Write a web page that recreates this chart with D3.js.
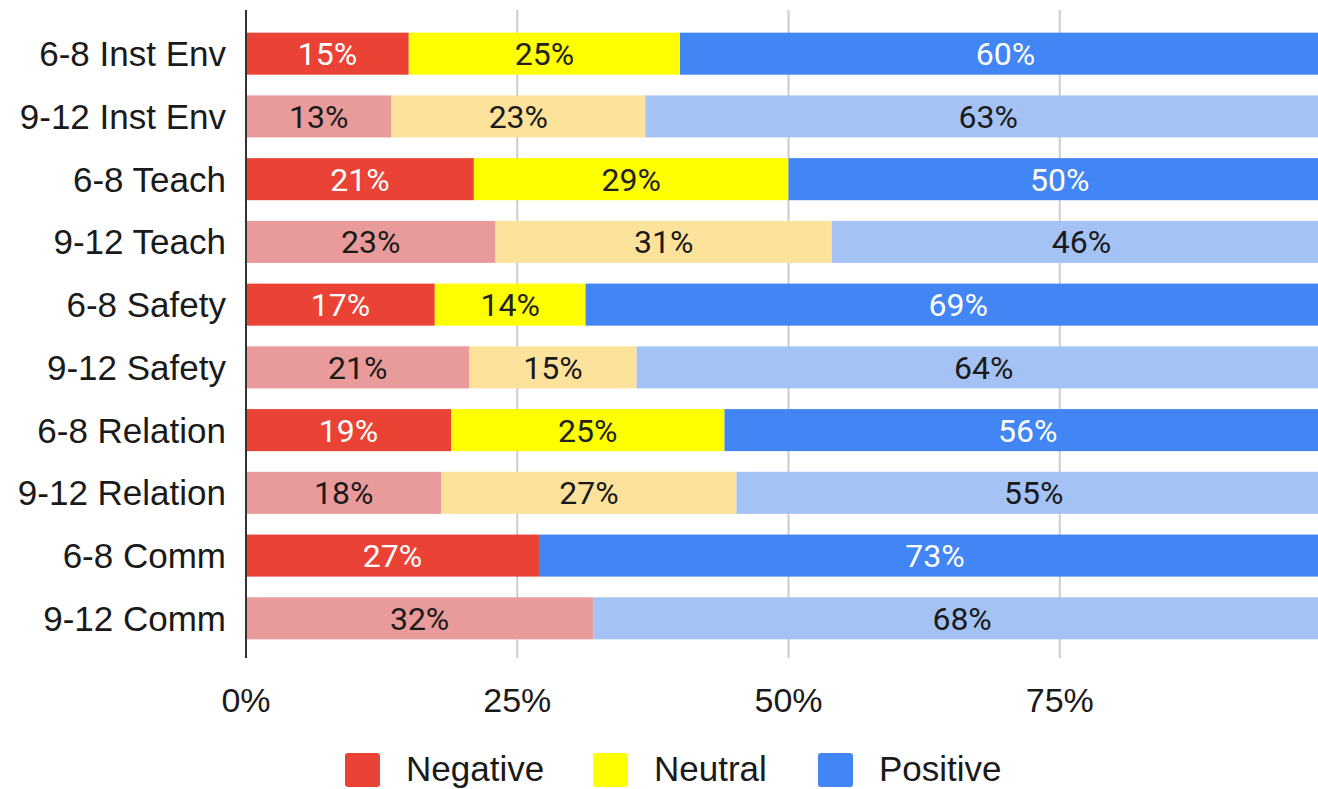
<!DOCTYPE html>
<html>
<head>
<meta charset="utf-8">
<script src="https://cdn.jsdelivr.net/npm/d3@7"></script>
<style>
  body { margin: 0; background: #fff; }
  svg { display: block; font-family: "Liberation Sans", Arial, sans-serif; }
</style>
</head>
<body>
<script>
// chart data
var categories = ['6-8 Inst Env', '9-12 Inst Env', '6-8 Teach', '9-12 Teach', '6-8 Safety',
                  '9-12 Safety', '6-8 Relation', '9-12 Relation', '6-8 Comm', '9-12 Comm'];
var negative = [15, 13.4, 21, 23, 17.4, 20.6, 18.9, 18, 27, 32];
var neutral  = [25, 23.4, 29, 31, 13.9, 15.4, 25.2, 27.2, 0, 0];
var positive = [60, 63.2, 50, 46, 68.7, 64, 55.9, 54.8, 73, 68];
var seriesNames = ['Negative', 'Neutral', 'Positive'];
var xTicks = [0, 25, 50, 75];

// colours: darker for 6-8 rows, lighter for 9-12 rows
var dark  = ['#ea4335', '#ffff00', '#4285f4'];
var light = ['#e99a9a', '#fce29b', '#a4c2f4'];
var darkText = ['#ffffff', '#222222', '#ffffff'];

var width = 1318, height = 789,
    margin = {top: 10, left: 246, bottom: 131};

var svg = d3.select('body').append('svg')
    .attr('width', width)
    .attr('height', height);

var x = d3.scaleLinear().domain([0, 100]).range([margin.left, margin.left + 1085]);
var y = d3.scaleBand().domain(categories)
    .range([22, 650]).paddingInner(0.33).paddingOuter(0.17);

// gridlines
svg.append('g').selectAll('line')
    .data(xTicks.slice(1))
    .enter().append('line')
    .attr('x1', function(d) { return x(d); })
    .attr('x2', function(d) { return x(d); })
    .attr('y1', 10).attr('y2', 658)
    .attr('stroke', '#cccccc').attr('stroke-width', 2);

// stack rows
var rows = categories.map(function(c, i) {
  return {cat: c, lightRow: c.indexOf('9-12') === 0, vals: [negative[i], neutral[i], positive[i]]};
});

rows.forEach(function(r) {
  var start = 0;
  r.vals.forEach(function(v, k) {
    if (v <= 0) return;
    var g = svg.append('g');
    g.append('rect')
      .attr('x', x(start))
      .attr('y', y(r.cat))
      .attr('width', x(start + v) - x(start))
      .attr('height', y.bandwidth())
      .attr('fill', r.lightRow ? light[k] : dark[k]);
    g.append('text')
      .attr('x', x(start + v / 2))
      .attr('y', y(r.cat) + y.bandwidth() / 2)
      .attr('dy', '0.36em')
      .attr('text-anchor', 'middle')
      .attr('font-family', 'Roboto, sans-serif')
      .attr('font-size', 32)
      .attr('fill', r.lightRow ? '#1a1a1a' : darkText[k])
      .text(Math.round(v) + '%');
    start += v;
  });
});

// category labels
svg.append('g').selectAll('text')
    .data(categories)
    .enter().append('text')
    .attr('x', 226)
    .attr('y', function(d) { return y(d) + y.bandwidth() / 2; })
    .attr('dy', '0.36em')
    .attr('text-anchor', 'end')
    .attr('font-size', 35)
    .attr('fill', '#1a1a1a')
    .text(function(d) { return d; });

// y axis line
svg.append('line')
    .attr('x1', x(0)).attr('x2', x(0))
    .attr('y1', 10).attr('y2', 658)
    .attr('stroke', '#333').attr('stroke-width', 2);

// x tick labels
svg.append('g').selectAll('text')
    .data(xTicks)
    .enter().append('text')
    .attr('x', function(d) { return x(d); })
    .attr('y', 700)
    .attr('dy', '0.36em')
    .attr('text-anchor', 'middle')
    .attr('font-size', 34)
    .attr('fill', '#1a1a1a')
    .text(function(d) { return d + '%'; });

// legend
var legendX = [345, 593, 818];
var legend = svg.append('g').selectAll('g')
    .data(seriesNames)
    .enter().append('g')
    .attr('transform', function(d, i) { return 'translate(' + legendX[i] + ',753)'; });

legend.append('rect')
    .attr('width', 35).attr('height', 34).attr('rx', 3)
    .attr('fill', function(d, i) { return dark[i]; });

legend.append('text')
    .attr('x', 61).attr('y', 28)
    .attr('font-size', 35)
    .attr('fill', '#1a1a1a')
    .text(function(d) { return d; });
</script>
</body>
</html>
